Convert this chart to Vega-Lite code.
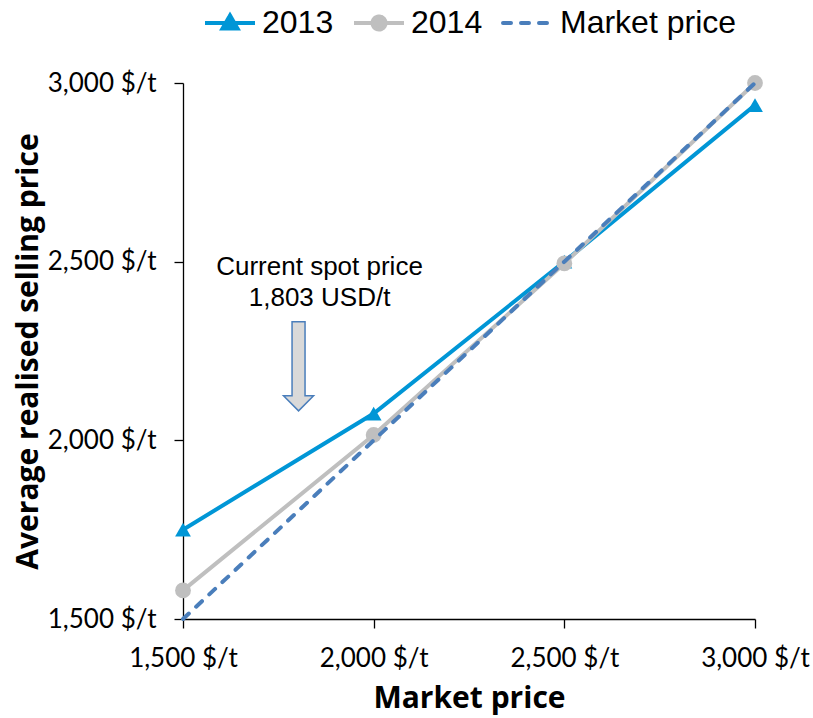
{
  "$schema": "https://vega.github.io/schema/vega-lite/v6.json",
  "width": 572,
  "height": 536,
  "autosize": {"type": "none"},
  "padding": {"left": 183, "top": 83, "right": 58, "bottom": 99},
  "background": "white",
  "config": {
    "view": {"stroke": null},
    "axis": {
      "grid": false,
      "domainColor": "#000000",
      "domainWidth": 1.3,
      "tickColor": "#000000",
      "tickWidth": 1.3,
      "tickSize": 9,
      "labelFont": "Lato",
      "labelFontSize": 26,
      "labelColor": "#000000",
      "labelFlush": false,
      "labelOverlap": false,
      "titleFont": "Open Sans",
      "titleFontSize": 30,
      "titleFontWeight": "bold",
      "titleColor": "#000000"
    }
  },
  "datasets": {
    "prices": [
      {"series": "2013", "market": 1500, "price": 1750},
      {"series": "2013", "market": 2000, "price": 2075},
      {"series": "2013", "market": 2500, "price": 2500},
      {"series": "2013", "market": 3000, "price": 2938},
      {"series": "2014", "market": 1500, "price": 1580},
      {"series": "2014", "market": 2000, "price": 2015},
      {"series": "2014", "market": 2500, "price": 2495},
      {"series": "2014", "market": 3000, "price": 3000},
      {"series": "Market price", "market": 1500, "price": 1500},
      {"series": "Market price", "market": 2000, "price": 2000},
      {"series": "Market price", "market": 2500, "price": 2500},
      {"series": "Market price", "market": 3000, "price": 3000}
    ],
    "spot": [
      {"market": 1803, "price": 2207, "labelY": 2463, "label": "Current spot price\n1,803 USD/t"}
    ]
  },
  "layer": [
    {
      "data": {"name": "prices"},
      "transform": [{"filter": "datum.series !== 'Market price'"}],
      "mark": {"type": "line", "strokeWidth": 4},
      "encoding": {
        "x": {
          "field": "market", "type": "quantitative",
          "scale": {"domain": [1500, 3000], "nice": false, "zero": false},
          "axis": {
            "title": "Market price",
            "values": [1500, 2000, 2500, 3000],
            "labelExpr": "format(datum.value, ',') + ' $/t'",
            "labelPadding": 17,
            "titlePadding": 12
          }
        },
        "y": {
          "field": "price", "type": "quantitative",
          "scale": {"domain": [1500, 3000], "nice": false, "zero": false},
          "axis": {
            "title": "Average realised selling price",
            "values": [1500, 2000, 2500, 3000],
            "labelExpr": "format(datum.value, ',') + ' $/t'",
            "labelPadding": 18,
            "titlePadding": 4
          }
        },
        "color": {
          "field": "series", "type": "nominal",
          "scale": {
            "domain": ["2013", "2014", "Market price"],
            "range": ["#0096d6", "#bfbfbf", "#4a7ebb"]
          },
          "legend": {
            "title": null,
            "orient": "none",
            "direction": "horizontal",
            "legendX": 20,
            "legendY": -87,
            "padding": 0,
            "labelFont": "Liberation Sans",
            "labelFontSize": 32,
            "labelColor": "#000000",
            "labelLimit": 400,
            "labelOffset": 5,
            "columnPadding": 12,
            "symbolSize": 2500,
            "symbolStrokeWidth": 4,
            "encode": {
              "symbols": {
                "update": {
                  "shape": {"signal": "datum.value === '2013' ? 'M-1,0L1,0M0,-0.3L0.3,0.22L-0.3,0.22Z' : datum.value === '2014' ? 'M-1,0L1,0M-0.26,0A0.26,0.26 0 1,0 0.26,0A0.26,0.26 0 1,0 -0.26,0Z' : 'M-1,0L1,0'"},
                  "fill": {"signal": "datum.value === '2013' ? '#0096d6' : datum.value === '2014' ? '#bfbfbf' : 'transparent'"},
                  "strokeDash": {"signal": "datum.value === 'Market price' ? [8, 10] : [1, 0]"},
                  "strokeCap": {"signal": "datum.value === 'Market price' ? 'round' : 'butt'"},
                  "opacity": {"value": 1}
                }
              }
            }
          }
        }
      }
    },
    {
      "data": {"name": "prices"},
      "transform": [{"filter": "datum.series !== 'Market price'"}],
      "mark": {"type": "point", "filled": true, "opacity": 1, "size": 250},
      "encoding": {
        "x": {"field": "market", "type": "quantitative"},
        "y": {"field": "price", "type": "quantitative"},
        "color": {"field": "series", "type": "nominal"},
        "shape": {
          "field": "series", "type": "nominal",
          "scale": {"domain": ["2013", "2014"], "range": ["triangle-up", "circle"]},
          "legend": null
        }
      }
    },
    {
      "data": {"name": "prices"},
      "transform": [{"filter": "datum.series === 'Market price'"}],
      "mark": {"type": "line", "strokeWidth": 4, "strokeDash": [8, 10], "strokeCap": "round"},
      "encoding": {
        "x": {"field": "market", "type": "quantitative"},
        "y": {"field": "price", "type": "quantitative"},
        "color": {"field": "series", "type": "nominal"}
      }
    },
    {
      "data": {"name": "spot"},
      "mark": {
        "type": "point",
        "shape": "M-0.146,-1L0.146,-1L0.146,0.663L0.337,0.663L0,1L-0.337,0.663L-0.146,0.663Z",
        "size": 7921,
        "filled": true,
        "fill": "#d9d9d9",
        "stroke": "#4a7ebb",
        "strokeWidth": 1.5,
        "opacity": 1
      },
      "encoding": {
        "x": {"field": "market", "type": "quantitative"},
        "y": {"field": "price", "type": "quantitative"}
      }
    },
    {
      "data": {"name": "spot"},
      "mark": {
        "type": "text",
        "font": "Liberation Sans",
        "fontSize": 26,
        "lineHeight": 31,
        "lineBreak": "\n",
        "align": "center",
        "baseline": "alphabetic",
        "dx": 21,
        "color": "#000000"
      },
      "encoding": {
        "x": {"field": "market", "type": "quantitative"},
        "y": {"field": "labelY", "type": "quantitative"},
        "text": {"field": "label"}
      }
    }
  ]
}
